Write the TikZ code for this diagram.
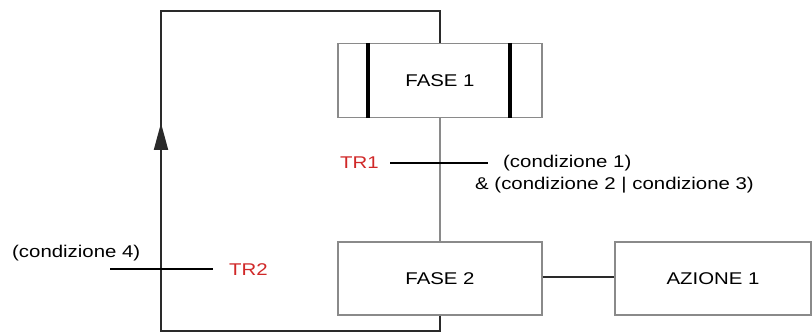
\documentclass[tikz,border=0pt]{standalone}
\usepackage{fontspec}
\setmainfont{Liberation Sans}[FakeStretch=1.2]
\usetikzlibrary{arrows.meta}
\definecolor{boxgray}{HTML}{8A8A8A}
\definecolor{loopcol}{HTML}{2A2A2A}
\definecolor{trred}{HTML}{D02828}
\tikzset{
  phase/.style={draw=boxgray, line width=1.3pt, minimum width=204pt, minimum height=74pt, inner sep=0pt, font=\fontsize{17}{20}\selectfont},
  loopline/.style={draw=loopcol, line width=2pt},
  trbar/.style={draw=black, line width=2.6pt},
  innerbar/.style={draw=black, line width=3.5pt},
  lbl/.style={anchor=west, inner sep=0pt, font=\fontsize{17}{20}\selectfont},
  trlbl/.style={lbl, text=trred}
}
\begin{document}
\begin{tikzpicture}[x=1pt, y=-1pt]
\useasboundingbox (0,0) rectangle (812,334);
% boxes
\node[phase] (fase1) at (440,80.5) {FASE 1};
\node[phase, minimum height=73pt] (fase2) at (440,278.5) {FASE 2};
\node[phase, minimum width=196pt, minimum height=73pt] (az1) at (713,278.5) {AZIONE 1};
% inner bars of FASE 1
\coordinate (b1t) at (368,43); \coordinate (b1b) at (368,118);
\coordinate (b2t) at (510,43); \coordinate (b2b) at (510,118);
\draw[innerbar] (b1t) -- (b1b);
\draw[innerbar] (b2t) -- (b2b);
% connectors
\draw[draw=boxgray, line width=1.2pt] (fase1.south) -- (fase2.north);
\draw[draw=loopcol, line width=1.6pt] (fase2.east |- 0,277) -- (az1.west |- 0,277);
% loop
\coordinate (lb) at (440,331);
\coordinate (lbl2) at (161,331);
\coordinate (ltl) at (161,11.5);
\coordinate (ltr) at (440,11.5);
\draw[loopline, line join=miter] (fase2.south) -- (lb) -- (lbl2) -- (ltl) -- (ltr) -- (fase1.north);
\coordinate (arrs) at (161,150);
\coordinate (arre) at (161,123);
\draw[loopline, -{Triangle[length=27pt, width=14pt]}] (arrs) -- (arre);
% transitions
\coordinate (t1l) at (390,163); \coordinate (t1r) at (488,163);
\draw[trbar] (t1l) -- (t1r);
\coordinate (t2l) at (110,269); \coordinate (t2r) at (213,269);
\draw[trbar] (t2l) -- (t2r);
% labels
\node[trlbl] (tr1) at (340,163) {TR1};
\node[trlbl] (tr2) at (229,270) {TR2};
\node[lbl] (c1) at (503,163) {(condizione 1)};
\node[lbl] (c23) at (475,185) {\& (condizione 2 | condizione 3)};
\node[lbl] (c4) at (12,253) {(condizione 4)};
\end{tikzpicture}
\end{document}
